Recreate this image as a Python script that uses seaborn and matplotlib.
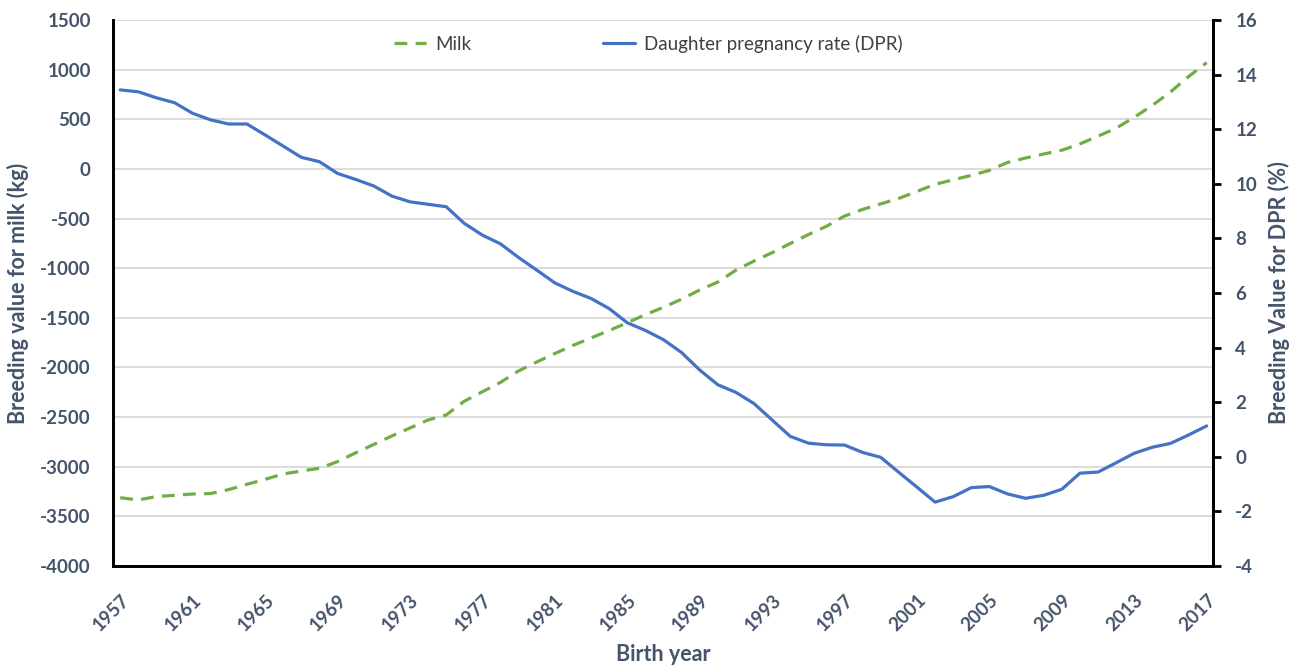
import matplotlib
matplotlib.use("Agg")
import matplotlib.pyplot as plt
import seaborn as sns
import pandas as pd
import numpy as np

years = list(range(1957, 2018))
milk = [-3312, -3335, -3300, -3288, -3275, -3270, -3230, -3177, -3127, -3073,
        -3043, -3016, -2949, -2860, -2776, -2690, -2610, -2529, -2479, -2340,
        -2245, -2150, -2035, -1945, -1860, -1778, -1703, -1628, -1550, -1468,
        -1394, -1312, -1220, -1140, -1020, -928, -844, -752, -662, -578,
        -475, -408, -352, -297, -227, -155, -110, -65, -15, 65,
        110, 150, 188, 252, 330, 410, 520, 640, 775, 930, 1070]
dpr = [13.44, 13.37, 13.15, 12.97, 12.58, 12.34, 12.19, 12.19, 11.79, 11.38,
       10.97, 10.81, 10.38, 10.16, 9.92, 9.55, 9.34, 9.25, 9.16, 8.55,
       8.12, 7.80, 7.30, 6.84, 6.37, 6.06, 5.80, 5.43, 4.91, 4.63,
       4.29, 3.82, 3.18, 2.64, 2.36, 1.95, 1.35, 0.75, 0.50, 0.44,
       0.43, 0.16, -0.02, -0.57, -1.11, -1.66, -1.46, -1.13, -1.09, -1.36,
       -1.52, -1.41, -1.19, -0.60, -0.56, -0.22, 0.13, 0.35, 0.49, 0.80, 1.13]
xtick_years = list(range(1957, 2018, 4))
left_ticks = list(range(-4000, 1501, 500))
right_ticks = list(range(-4, 17, 2))

df = pd.DataFrame({"year": years, "milk": milk, "dpr": dpr})

sns.set_theme(style="white")
plt.rcParams["font.family"] = ["Lato", "DejaVu Sans"]
plt.rcParams["axes.unicode_minus"] = False

TXT = "#44546A"
GREEN = "#70AD47"
BLUE = "#4472C4"

fig = plt.figure(figsize=(12.98, 6.66), dpi=100)
ax = fig.add_axes([113/1298, 1-566/666, 1100/1298, 546/666])
ax2 = ax.twinx()

sns.lineplot(data=df, x="year", y="milk", ax=ax, color=GREEN, linewidth=2.3,
             label="Milk", legend=False)
ax.lines[0].set_dashes((4, 2.6))
sns.lineplot(data=df, x="year", y="dpr", ax=ax2, color=BLUE, linewidth=2.3,
             label="Daughter pregnancy rate (DPR)", legend=False)

ax.set_xlim(1956.6, 2017.35)
ax.set_ylim(-4000, 1500)
ax2.set_ylim(-4, 16)
ax.set_yticks(left_ticks)
ax2.set_yticks(right_ticks)
ax.set_xticks(xtick_years)
ax.set_xticklabels([str(y) for y in xtick_years], rotation=45, ha="right",
                   rotation_mode="anchor")

ax.yaxis.grid(True, color="#D9D9D9", linewidth=1.3)
ax.xaxis.grid(False)
ax2.grid(False)
ax.set_axisbelow(True)

for a in (ax, ax2):
    a.spines["top"].set_visible(False)
    for s in ["left", "right", "bottom"]:
        a.spines[s].set_color("black")
        a.spines[s].set_linewidth(2)

ax.tick_params(axis="y", length=0, labelsize=13.5, labelcolor=TXT, pad=16)
ax.tick_params(axis="x", length=0, labelsize=13.5, labelcolor=TXT, pad=18)
ax2.tick_params(axis="y", length=6, width=2, color="black", direction="out",
                labelsize=13.5, labelcolor=TXT, pad=10)
for lab in ax.get_xticklabels() + ax.get_yticklabels() + ax2.get_yticklabels():
    lab.set_fontweight("bold")

ax.set_xlabel("Birth year", fontsize=15.5, fontweight="bold", color=TXT, labelpad=7)
ax.set_ylabel("Breeding value for milk (kg)", fontsize=15.5, fontweight="bold",
              color=TXT, labelpad=8)
ax2.set_ylabel("Breeding Value for DPR (%)", fontsize=15.5, fontweight="bold",
               color=TXT, labelpad=8)

h1, l1 = ax.get_legend_handles_labels()
h2, l2 = ax2.get_legend_handles_labels()
h1 = [plt.Line2D([], [], color=GREEN, linewidth=2.3, dashes=(4, 2.6))]
leg = ax2.legend(h1 + h2, l1 + l2, loc="center", bbox_to_anchor=(0.487, 0.957),
                 ncol=2, frameon=False, fontsize=13.5, handlelength=1.7,
                 columnspacing=7, handletextpad=0.5)
for t in leg.get_texts():
    t.set_color("#404040")

fig.savefig("out.png", dpi=100)
